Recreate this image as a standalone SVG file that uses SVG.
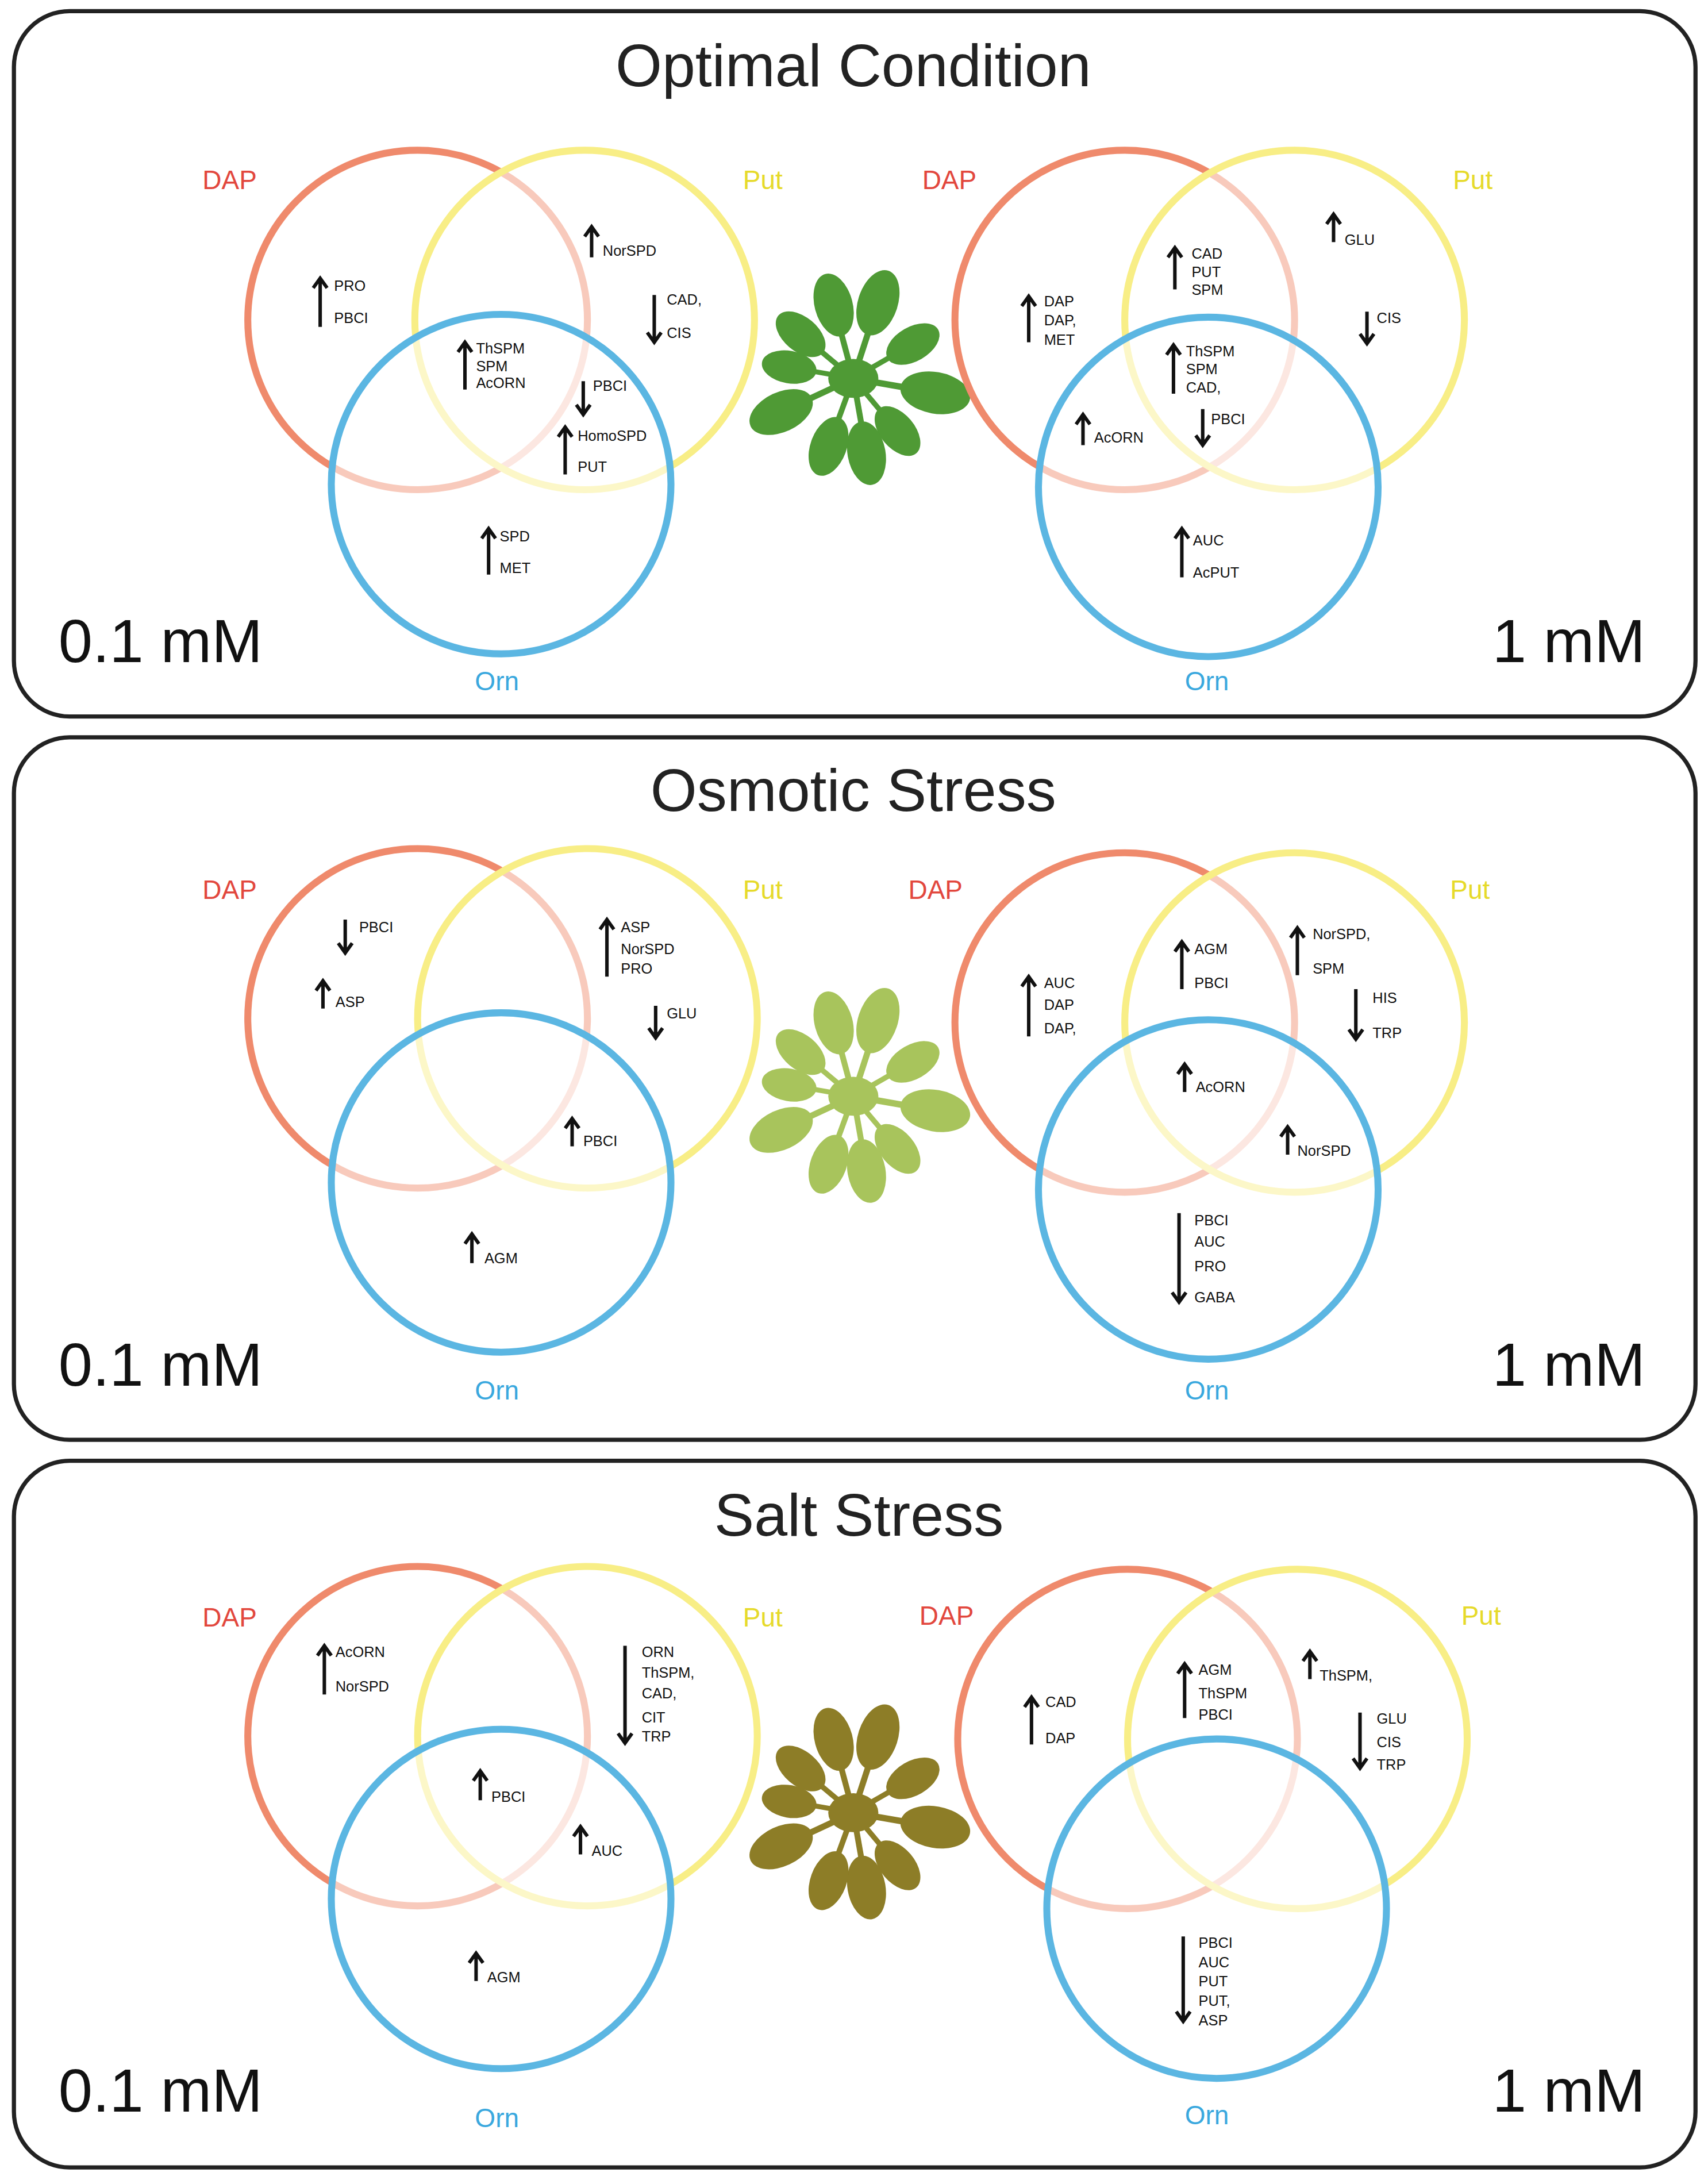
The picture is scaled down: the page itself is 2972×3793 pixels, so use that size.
<svg xmlns="http://www.w3.org/2000/svg" width="2972" height="3793" viewBox="0 0 2972 3793">
<style>
.panel{fill:none;stroke:#222;stroke-width:3}
.title{font-family:"Liberation Sans",Arial,sans-serif;font-size:43px;fill:#222;text-anchor:middle}
.conc{font-family:"Liberation Sans",Arial,sans-serif;font-size:44px;fill:#111}
.lab{font-family:"Liberation Sans",Arial,sans-serif;font-size:19px;text-anchor:middle}
.dapl{fill:#e2473d}.putl{fill:#e6da2a}.ornl{fill:#3aa8de}
.dap{stroke:#ef8a6c;stroke-width:5;fill:none}
.put{stroke:#f8ee86;stroke-width:5;fill:#fff;fill-opacity:.55}
.orn{stroke:#5bb6e2;stroke-width:5;fill:#fff;fill-opacity:.55}
.t{font-family:"Liberation Sans",Arial,sans-serif;font-size:10.5px;fill:#111}
.ar{stroke:#111;stroke-width:2.5;fill:none}
</style>
<defs>
<g id="leaf"><rect x="0" y="-2" width="34" height="4"/><ellipse cx="52" cy="0" rx="22" ry="13"/></g>
<g id="plant">
<use href="#leaf" transform="rotate(-105) scale(1.05)"/>
<use href="#leaf" transform="rotate(-72) scale(1.1)"/>
<use href="#leaf" transform="rotate(-30) scale(0.95)"/>
<use href="#leaf" transform="rotate(10) scale(1.15)"/>
<use href="#leaf" transform="rotate(50) scale(0.95)"/>
<use href="#leaf" transform="rotate(80) scale(1.05)"/>
<use href="#leaf" transform="rotate(110) scale(1.0)"/>
<use href="#leaf" transform="rotate(155) scale(1.1)"/>
<use href="#leaf" transform="rotate(190) scale(0.9)"/>
<use href="#leaf" transform="rotate(-140) scale(0.95)"/>
<ellipse cx="0" cy="0" rx="18" ry="14"/>
</g>
</defs>
<rect width="2972" height="3793" fill="#fff"/>
<g transform="scale(2.4222,2.4205)">
<g id="panels">
<rect class="panel" x="10" y="8" width="1208" height="507" rx="40"/>
<rect class="panel" x="10" y="530" width="1208" height="505" rx="40"/>
<rect class="panel" x="10" y="1050" width="1208" height="508" rx="40"/>
<text class="title" x="613" y="62">Optimal Condition</text>
<text class="title" x="613" y="583">Osmotic Stress</text>
<text class="title" x="617" y="1104">Salt Stress</text>
<text class="conc" x="42" y="476">0.1 mM</text>
<text class="conc" x="1182" y="476" text-anchor="end">1 mM</text>
<text class="conc" x="42" y="996">0.1 mM</text>
<text class="conc" x="1182" y="996" text-anchor="end">1 mM</text>
<text class="conc" x="42" y="1518">0.1 mM</text>
<text class="conc" x="1182" y="1518" text-anchor="end">1 mM</text>
</g>
<g id="plants">
<use href="#plant" transform="translate(613,272)" fill="#4f9a35"/>
<use href="#plant" transform="translate(613,788)" fill="#a8c45c"/>
<use href="#plant" transform="translate(613,1303)" fill="#8d7d27"/>
</g>
<g id="venn-opt-01">
<circle class="dap" cx="300" cy="230" r="122"/><circle class="put" cx="420" cy="230" r="122"/><circle class="orn" cx="360" cy="348" r="122"/>
<text class="lab dapl" x="165" y="136">DAP</text><text class="lab putl" x="548" y="136">Put</text><text class="lab ornl" x="357" y="496">Orn</text>
<path class="ar" d="M230 235V200M225 207L230 200L235 207"/><text class="t" x="240" y="209">PRO</text><text class="t" x="240" y="232">PBCI</text>
<path class="ar" d="M425 185V163M420 170L425 163L430 170"/><text class="t" x="433" y="184">NorSPD</text>
<path class="ar" d="M470 212V246M465 239L470 246L475 239"/><text class="t" x="479" y="219">CAD,</text><text class="t" x="479" y="243">CIS</text>
<path class="ar" d="M334 280V246M329 253L334 246L339 253"/><text class="t" x="342" y="254">ThSPM</text><text class="t" x="342" y="267">SPM</text><text class="t" x="342" y="279">AcORN</text>
<path class="ar" d="M419 274V298M414 291L419 298L424 291"/><text class="t" x="426" y="281">PBCI</text>
<path class="ar" d="M406 341V307M401 314L406 307L411 314"/><text class="t" x="415" y="317">HomoSPD</text><text class="t" x="415" y="339">PUT</text>
<path class="ar" d="M351 413V380M346 387L351 380L356 387"/><text class="t" x="359" y="389">SPD</text><text class="t" x="359" y="412">MET</text>
</g>
<g id="venn-opt-1">
<circle class="dap" cx="808" cy="230" r="122"/><circle class="put" cx="930" cy="230" r="122"/><circle class="orn" cx="868" cy="350" r="122"/>
<text class="lab dapl" x="682" y="136">DAP</text><text class="lab putl" x="1058" y="136">Put</text><text class="lab ornl" x="867" y="496">Orn</text>
<path class="ar" d="M739 246V213M734 220L739 213L744 220"/><text class="t" x="750" y="220">DAP</text><text class="t" x="750" y="234">DAP,</text><text class="t" x="750" y="248">MET</text>
<path class="ar" d="M844 208V178M839 185L844 178L849 185"/><text class="t" x="856" y="186">CAD</text><text class="t" x="856" y="199">PUT</text><text class="t" x="856" y="212">SPM</text>
<path class="ar" d="M958 174V154M953 161L958 154L963 161"/><text class="t" x="966" y="176">GLU</text>
<path class="ar" d="M982 224V247M977 240L982 247L987 240"/><text class="t" x="989" y="232">CIS</text>
<path class="ar" d="M843 283V248M838 255L843 248L848 255"/><text class="t" x="852" y="256">ThSPM</text><text class="t" x="852" y="269">SPM</text><text class="t" x="852" y="282">CAD,</text>
<path class="ar" d="M864 294V320M859 313L864 320L869 313"/><text class="t" x="870" y="305">PBCI</text>
<path class="ar" d="M778 320V298M773 305L778 298L783 305"/><text class="t" x="786" y="318">AcORN</text>
<path class="ar" d="M849 415V380M844 387L849 380L854 387"/><text class="t" x="857" y="392">AUC</text><text class="t" x="857" y="415">AcPUT</text>
</g>
<g id="venn-osm-01">
<circle class="dap" cx="300" cy="732" r="122"/><circle class="put" cx="422" cy="732" r="122"/><circle class="orn" cx="360" cy="850" r="122"/>
<text class="lab dapl" x="165" y="646">DAP</text><text class="lab putl" x="548" y="646">Put</text><text class="lab ornl" x="357" y="1006">Orn</text>
<path class="ar" d="M248 661V685M243 678L248 685L253 678"/><text class="t" x="258" y="670">PBCI</text>
<path class="ar" d="M232 725V705M227 712L232 705L237 712"/><text class="t" x="241" y="724">ASP</text>
<path class="ar" d="M436 702V661M431 668L436 661L441 668"/><text class="t" x="446" y="670">ASP</text><text class="t" x="446" y="686">NorSPD</text><text class="t" x="446" y="700">PRO</text>
<path class="ar" d="M471 723V746M466 739L471 746L476 739"/><text class="t" x="479" y="732">GLU</text>
<path class="ar" d="M411 824V804M406 811L411 804L416 811"/><text class="t" x="419" y="824">PBCI</text>
<path class="ar" d="M339 908V887M334 894L339 887L344 894"/><text class="t" x="348" y="908">AGM</text>
</g>
<g id="venn-osm-1">
<circle class="dap" cx="808" cy="735" r="122"/><circle class="put" cx="930" cy="735" r="122"/><circle class="orn" cx="868" cy="855" r="122"/>
<text class="lab dapl" x="672" y="646">DAP</text><text class="lab putl" x="1056" y="646">Put</text><text class="lab ornl" x="867" y="1006">Orn</text>
<path class="ar" d="M739 745V702M734 709L739 702L744 709"/><text class="t" x="750" y="710">AUC</text><text class="t" x="750" y="726">DAP</text><text class="t" x="750" y="743">DAP,</text>
<path class="ar" d="M849 711V677M844 684L849 677L854 684"/><text class="t" x="858" y="686">AGM</text><text class="t" x="858" y="710">PBCI</text>
<path class="ar" d="M932 701V667M927 674L932 667L937 674"/><text class="t" x="943" y="675">NorSPD,</text><text class="t" x="943" y="700">SPM</text>
<path class="ar" d="M974 711V747M969 740L974 747L979 740"/><text class="t" x="986" y="721">HIS</text><text class="t" x="986" y="746">TRP</text>
<path class="ar" d="M851 785V765M846 772L851 765L856 772"/><text class="t" x="859" y="785">AcORN</text>
<path class="ar" d="M925 830V810M920 817L925 810L930 817"/><text class="t" x="932" y="831">NorSPD</text>
<path class="ar" d="M847 872V936M842 929L847 936L852 929"/><text class="t" x="858" y="881">PBCI</text><text class="t" x="858" y="896">AUC</text><text class="t" x="858" y="914">PRO</text><text class="t" x="858" y="936">GABA</text>
</g>
<g id="venn-salt-01">
<circle class="dap" cx="300" cy="1248" r="122"/><circle class="put" cx="422" cy="1248" r="122"/><circle class="orn" cx="360" cy="1365" r="122"/>
<text class="lab dapl" x="165" y="1169">DAP</text><text class="lab putl" x="548" y="1169">Put</text><text class="lab ornl" x="357" y="1529">Orn</text>
<path class="ar" d="M233 1218V1183M228 1190L233 1183L238 1190"/><text class="t" x="241" y="1191">AcORN</text><text class="t" x="241" y="1216">NorSPD</text>
<path class="ar" d="M449 1183V1253M444 1246L449 1253L454 1246"/><text class="t" x="461" y="1191">ORN</text><text class="t" x="461" y="1206">ThSPM,</text><text class="t" x="461" y="1221">CAD,</text><text class="t" x="461" y="1238">CIT</text><text class="t" x="461" y="1252">TRP</text>
<path class="ar" d="M345 1294V1273M340 1280L345 1273L350 1280"/><text class="t" x="353" y="1295">PBCI</text>
<path class="ar" d="M417 1333V1313M412 1320L417 1313L422 1320"/><text class="t" x="425" y="1334">AUC</text>
<path class="ar" d="M342 1424V1404M337 1411L342 1404L347 1411"/><text class="t" x="350" y="1425">AGM</text>
</g>
<g id="venn-salt-1">
<circle class="dap" cx="810" cy="1250" r="122"/><circle class="put" cx="932" cy="1250" r="122"/><circle class="orn" cx="874" cy="1372" r="122"/>
<text class="lab dapl" x="680" y="1168">DAP</text><text class="lab putl" x="1064" y="1168">Put</text><text class="lab ornl" x="867" y="1527">Orn</text>
<path class="ar" d="M741 1254V1220M736 1227L741 1220L746 1227"/><text class="t" x="751" y="1227">CAD</text><text class="t" x="751" y="1253">DAP</text>
<path class="ar" d="M851 1235V1196M846 1203L851 1196L856 1203"/><text class="t" x="861" y="1204">AGM</text><text class="t" x="861" y="1221">ThSPM</text><text class="t" x="861" y="1236">PBCI</text>
<path class="ar" d="M941 1207V1187M936 1194L941 1187L946 1194"/><text class="t" x="948" y="1208">ThSPM,</text>
<path class="ar" d="M977 1231V1271M972 1264L977 1271L982 1264"/><text class="t" x="989" y="1239">GLU</text><text class="t" x="989" y="1256">CIS</text><text class="t" x="989" y="1272">TRP</text>
<path class="ar" d="M850 1392V1453M845 1446L850 1453L855 1446"/><text class="t" x="861" y="1400">PBCI</text><text class="t" x="861" y="1414">AUC</text><text class="t" x="861" y="1428">PUT</text><text class="t" x="861" y="1442">PUT,</text><text class="t" x="861" y="1456">ASP</text>
</g>
</g>
</svg>
